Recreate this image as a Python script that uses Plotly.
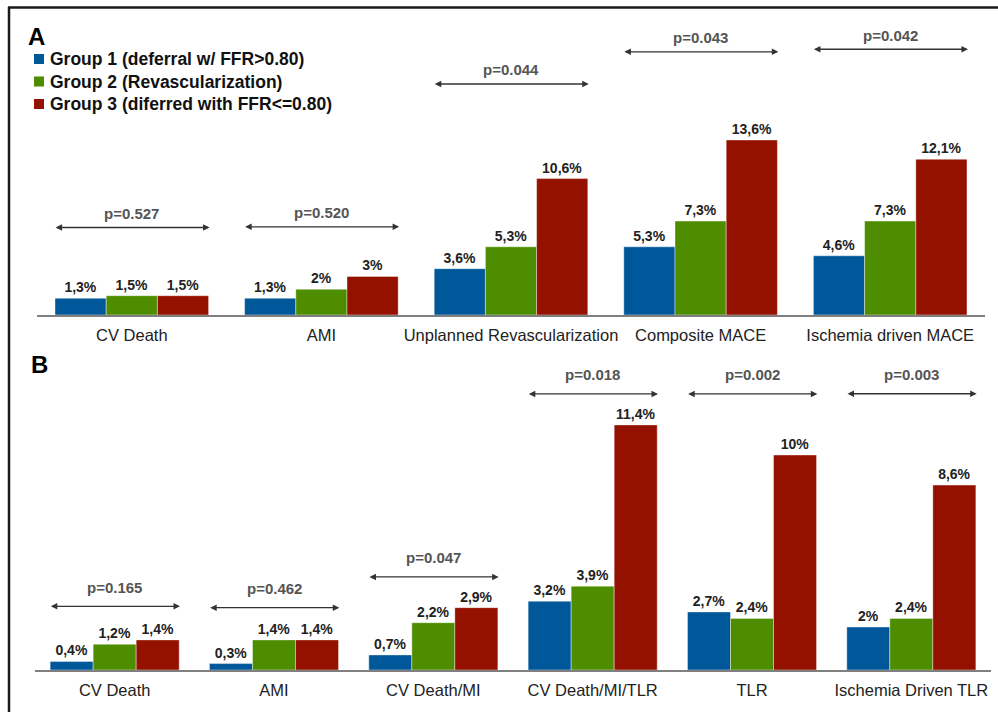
import plotly.graph_objects as go

# ---- Panel A data ----
cats_a = ["CV Death", "AMI", "Unplanned Revascularization", "Composite MACE", "Ischemia driven MACE"]
g1_a = [1.3, 1.3, 3.6, 5.3, 4.6]
g2_a = [1.5, 2.0, 5.3, 7.3, 7.3]
g3_a = [1.5, 3.0, 10.6, 13.6, 12.1]
p_a = ["p=0.527", "p=0.520", "p=0.044", "p=0.043", "p=0.042"]
p_level_a = [6.8, 6.85, 17.95, 20.45, 20.65]

# ---- Panel B data ----
cats_b = ["CV Death", "AMI", "CV Death/MI", "CV Death/MI/TLR", "TLR", "Ischemia Driven TLR"]
g1_b = [0.4, 0.3, 0.7, 3.2, 2.7, 2.0]
g2_b = [1.2, 1.4, 2.2, 3.9, 2.4, 2.4]
g3_b = [1.4, 1.4, 2.9, 11.4, 10.0, 8.6]
p_b = ["p=0.165", "p=0.462", "p=0.047", "p=0.018", "p=0.002", "p=0.003"]
p_level_b = [2.96, 2.9, 4.33, 12.84, 12.84, 12.85]

group_names = ["Group 1 (deferral w/ FFR>0.80)",
               "Group 2 (Revascularization)",
               "Group 3 (diferred with FFR<=0.80)"]
colors = ["#00579A", "#4E8D00", "#941100"]

W, H = 998, 712
FONT = "Liberation Sans, Arial, sans-serif"


def fmt(v):
    s = f"{v:.1f}".replace(".", ",")
    if s.endswith(",0"):
        s = s[:-2]
    return s + "%"


def px_y(y):
    """pixel row (from top) -> paper y"""
    return 1 - y / H


def px_x(x):
    return x / W


fig = go.Figure()

panels = [
    dict(cats=cats_a, series=[g1_a, g2_a, g3_a], xa="x", ya="y",
         pvals=p_a, plev=p_level_a, pshift=14),
    dict(cats=cats_b, series=[g1_b, g2_b, g3_b], xa="x2", ya="y2",
         pvals=p_b, plev=p_level_b, pshift=19),
]

for panel in panels:
    xs = list(range(len(panel["cats"])))
    for k, vals in enumerate(panel["series"]):
        fig.add_trace(go.Bar(
            x=xs, y=vals, name=group_names[k],
            marker=dict(color=colors[k], line=dict(color="rgba(255,255,255,0.5)", width=0.8)),
            text=[fmt(v) for v in vals], textposition="outside",
            textfont=dict(family=FONT, size=14, color="#222222", weight="bold"),
            constraintext="none", cliponaxis=False,
            xaxis=panel["xa"], yaxis=panel["ya"], showlegend=False,
            hoverinfo="skip",
        ))
    xref = panel["xa"]
    yref = panel["ya"]
    for i, (ptxt, lev) in enumerate(zip(panel["pvals"], panel["plev"])):
        # double-headed bracket arrow spanning the group
        fig.add_annotation(x=i + 0.41, y=lev, ax=i - 0.41, ay=lev,
                           xref=xref, yref=yref, axref=xref, ayref=yref,
                           text="", showarrow=True, arrowhead=2, arrowsize=1,
                           arrowwidth=1.3, arrowcolor="#333333",
                           arrowside="end+start", standoff=0, startstandoff=0)
        fig.add_annotation(x=i, y=lev, xref=xref, yref=yref, text=ptxt,
                           showarrow=False, yshift=panel["pshift"],
                           font=dict(family=FONT, size=15, color="#555555", weight="bold"))

# axes geometry (pixel based)
a_base, a_top, a_scale = 315, 20, 12.87
b_base, b_top, b_scale = 670, 350, 21.5

axis_common = dict(showgrid=False, zeroline=False, ticks="", showline=True,
                   linecolor="#7f7f7f", linewidth=1.5, fixedrange=True,
                   ticklabelstandoff=4,
                   tickfont=dict(family=FONT, size=16.5, color="#222222"))

fig.update_layout(
    width=W, height=H,
    margin=dict(l=0, r=0, t=0, b=0),
    paper_bgcolor="white", plot_bgcolor="white",
    barmode="group", bargap=0.19, bargroupgap=0,
    font=dict(family=FONT),
    xaxis=dict(domain=[px_x(37), px_x(985)], range=[-0.5, 4.5], anchor="y",
               tickmode="array", tickvals=list(range(len(cats_a))), ticktext=cats_a,
               **axis_common),
    yaxis=dict(domain=[px_y(a_base), px_y(a_top)], range=[0, (a_base - a_top) / a_scale],
               anchor="x", visible=False, fixedrange=True),
    xaxis2=dict(domain=[px_x(35), px_x(991)], range=[-0.5, 5.5], anchor="y2",
                tickmode="array", tickvals=list(range(len(cats_b))), ticktext=cats_b,
                **axis_common),
    yaxis2=dict(domain=[px_y(b_base), px_y(b_top)], range=[0, (b_base - b_top) / b_scale],
                anchor="x2", visible=False, fixedrange=True),
)

# panel letters
fig.add_annotation(x=px_x(26), y=px_y(36), xref="paper", yref="paper", text="<b>A</b>",
                   showarrow=False, xanchor="left", yanchor="middle",
                   font=dict(family=FONT, size=24, color="#000000"))
fig.add_annotation(x=px_x(29), y=px_y(364), xref="paper", yref="paper", text="<b>B</b>",
                   showarrow=False, xanchor="left", yanchor="middle",
                   font=dict(family=FONT, size=24, color="#000000"))

# key for the three groups
for k, (name, col) in enumerate(zip(group_names, colors)):
    cy = 59 + 22.5 * k
    fig.add_shape(type="rect", xref="paper", yref="paper",
                  x0=px_x(34), x1=px_x(44), y0=px_y(cy + 5), y1=px_y(cy - 5),
                  fillcolor=col, line=dict(width=0))
    fig.add_annotation(x=px_x(48), y=px_y(cy), xref="paper", yref="paper", text=name,
                       showarrow=False, xanchor="left", yanchor="middle",
                       font=dict(family=FONT, size=17.5, color="#111111", weight="bold"))

# frame lines along top and left
fig.add_shape(type="line", xref="paper", yref="paper",
              x0=px_x(8), x1=1, y0=px_y(7.5), y1=px_y(7.5),
              line=dict(color="#1a1a1a", width=2.5))
fig.add_shape(type="line", xref="paper", yref="paper",
              x0=px_x(9), x1=px_x(9), y0=px_y(7), y1=0,
              line=dict(color="#1a1a1a", width=2.5))

fig.write_html("out.html", config=dict(displayModeBar=False))
